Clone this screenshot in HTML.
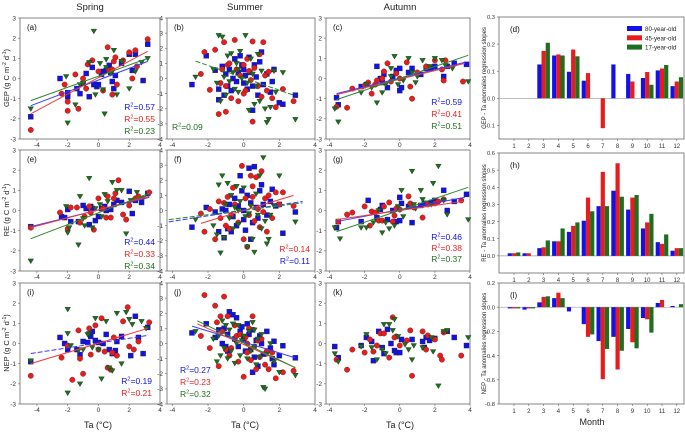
<!DOCTYPE html>
<html><head><meta charset="utf-8"><style>
html,body{margin:0;padding:0;background:#fff;}
svg{display:block;font-family:"Liberation Sans",Arial,sans-serif;}
</style></head><body>
<svg id="fig" width="685" height="432" viewBox="0 0 685 432" xmlns="http://www.w3.org/2000/svg"></svg>
<script>
// ---------- scatter data (x = Ta anomaly, y = flux anomaly), flat pairs ----------
const gepSpringBlue=[-4.4,-1.9,-2.5,0,-2,-0.7,-2,-0.9,-1.4,-0.5,-1.2,-0.75,-1,-0.25,-0.8,0.25,-0.6,-0.9,-0.4,0.55,-0.3,-0.3,-0.1,-0.4,0,-0.3,0.3,0.35,0.5,0.4,0.7,0.65,0.8,0.3,0.9,-0.15,1,-0.5,1.1,0.15,1.5,0.75,2,1.2,2.2,0.4,2.4,1.2,2.9,-0.1,3.2,1.7,0.2,0.2,-0.2,-0.3];
const gepSpringRed=[-4.4,-2.55,-2.4,-0.75,-2.2,-0.3,-2,-1.15,-2,-1.6,-1.5,0.2,-1.3,-1.5,-1,0,-0.8,-0.5,-0.7,0.7,-0.4,0.9,0,0.35,0.3,-0.6,0.6,1.55,0.7,0.4,0.9,0.45,1,0.85,1.1,1.05,1.2,-0.3,1.6,0.9,2,1.3,2.2,0,2.4,1.4,2.5,0.6,3.2,1.95,0.9,-0.8];
const gepSpringGreen=[-4.4,-1.5,-2.1,0.1,-2,-2.2,-1.5,-1.3,-1.2,-0.3,-1,-0.25,-0.6,0.8,-0.3,2.35,-0.2,-0.8,0.1,0.75,0.3,-0.55,0.4,-1.75,0.5,0.55,0.8,0.25,1.0,1.4,1.2,-0.8,1.5,0.85,2.0,-0.5,2.4,0.35,2.8,0.8,3.2,1.0,0.5,0.95];
const reSpringBlue=[-4.4,-0.8,-2.4,-0.3,-2.2,-0.35,-2,0.05,-1.8,-0.55,-1.3,-0.55,-1,0.25,-0.8,0.1,-0.6,-0.7,-0.5,0.2,-0.4,0.1,-0.2,-0.5,0,-0.3,0.2,0.1,0.4,0.2,0.5,0,0.8,0.05,1.0,0.3,1.2,0.5,1.5,0.4,2.0,0.95,2.2,-0.15,2.4,0.5,2.8,0.4,3.2,0.85];
const reSpringRed=[-4.4,-0.85,-2.5,-0.1,-2,-0.9,-1.8,0.15,-1.4,0.15,-1.2,-0.6,-0.9,-0.3,-0.6,0.2,-0.5,-0.1,-0.3,-0.95,0,0.6,0.3,0.1,0.5,-0.35,0.6,0.7,0.8,-0.35,1.0,0.6,1.3,1.5,1.6,-0.2,1.8,-0.45,2.0,0.25,2.4,0.6,2.6,0.7,3.3,0.9,1.1,0.85];
const reSpringGreen=[-4.4,-2.5,-2.1,0.2,-2,-1.1,-1.9,-0.85,-1.3,-1.7,-1.2,0.7,-0.9,-0.75,-0.6,1.6,-0.4,-0.85,-0.2,0.1,0.1,0.3,0.4,0.8,0.6,0.45,0.9,1.4,1.2,1.0,1.5,1.0,1.8,-1.15,2.1,0.5,2.5,0.9,2.9,0.6,0.2,-0.3,-1.0,-0.4];
const nepSpringBlue=[-4.4,-0.9,-2.5,0.3,-2.2,0,-2,-0.3,-1.4,-0.3,-1.2,-0.55,-1,0.1,-0.7,0.05,-0.5,0.35,-0.4,0.6,-0.2,0.15,0,0.05,0.3,0,0.5,0.45,0.7,-0.3,0.9,-0.5,1.1,-0.35,1.2,0.1,1.5,0.35,2.1,-0.6,2.4,1.35,2.6,0.3,2.9,-0.5,3.2,0.8];
const nepSpringRed=[-4.4,-1.6,-2.4,-0.7,-2,-0.1,-1.7,-1.8,-1.3,0.65,-1.2,-0.75,-1,-1.5,-0.6,0.75,-0.5,-0.55,-0.2,0.9,0,-0.3,0.2,1.25,0.4,-0.4,0.6,-1.2,0.8,-1.3,1.0,0.3,1.2,-0.6,1.6,1.1,1.9,1.8,2.0,-0.15,2.3,-0.3,2.6,0.1,3.3,1.05,0.9,-0.45];
const nepSpringGreen=[-4.4,-0.85,-2,1.7,-2,0.5,-2,-2.45,-1.8,-0.1,-1.3,-0.35,-1.2,-2.0,-1,-0.3,-0.6,0.5,-0.4,-0.2,-0.2,1.25,0,-0.3,0.2,-1.75,0.5,1.1,0.7,-1.2,0.9,-1.35,1.2,1.5,1.5,-1.0,1.8,1.55,2.0,1.2,2.2,0.95,2.8,1.1,3.1,0.75,-0.7,0.45];

const gepSummerBlue=[-2.9,-0.4,-2.1,1.5,-1.6,0.55,-1.4,-0.7,-1.2,0.8,-1.1,-1.1,-1,0.3,-0.9,-0.5,-0.8,0.6,-0.6,0.0,-0.5,1.3,-0.4,-0.2,-0.3,0.4,-0.2,1.5,-0.1,0.9,0,-0.3,0.1,0.2,0.2,-0.7,0.3,1.4,0.35,0.4,0.5,-0.5,0.6,0.9,0.7,0.1,0.8,-1.1,0.9,1.1,1.0,1.75,1.1,-0.4,1.3,0.3,1.5,-0.9,1.6,-0.2,1.7,0.6,2.0,-1.6,2.2,-1.7,2.9,-1.1,-1.4,-1.4,0.5,-2.1,-0.7,-0.8,0.0,0.6];
const gepSummerRed=[-2.4,0.3,-2.2,1.75,-1.9,-0.75,-1.6,1.9,-1.4,-2.35,-1.3,-0.3,-1.2,0.6,-1.1,2.4,-1,-0.5,-0.9,0.9,-0.8,1.0,-0.7,-1.3,-0.5,2.55,-0.4,0.6,-0.3,-1.5,-0.2,0.2,0,0.9,0.1,-0.8,0.2,1.3,0.3,0.5,0.4,-0.1,0.5,2.45,0.5,-2.85,0.6,0.7,0.8,-0.5,0.9,1.6,1.0,-1.2,1.1,2.4,1.2,0.2,1.3,-0.8,1.4,0.45,1.6,-1.3,1.8,-1.9,2.2,-0.7,2.8,-1.5,-1.0,-2.2,0.0,-1.0];
const gepSummerGreen=[-2.7,0.1,-1.7,0.6,-1.5,-0.3,-1.4,2.85,-1.3,-1.5,-1.2,2.75,-1.1,0.1,-1.0,-1.1,-0.9,1.5,-0.8,-0.2,-0.7,1.65,-0.6,0.4,-0.5,-0.7,-0.4,1.0,-0.3,-0.9,-0.2,1.8,-0.1,0.0,0.1,2.85,0.2,-0.3,0.3,-2.1,0.4,1.3,0.5,0.3,0.7,-0.5,0.8,1.6,0.9,-1.5,1.0,0.5,1.2,-2.0,1.3,-2.9,1.4,-2.7,1.5,-1.9,1.7,0.5,1.8,-0.9,2.2,0.4,2.9,-2.7,0.6,-1.7,-0.3,0.6];
const reSummerBlue=[-2.9,-1.1,-2.1,0.2,-1.6,-0.1,-1.4,-1.4,-1.2,0.1,-1.1,-1.8,-1,0,-0.9,-1.2,-0.8,0.4,-0.6,-0.4,-0.5,0.8,-0.4,-1.0,-0.3,0.3,-0.2,2.3,-0.1,1.3,0,0.0,0.1,-1.3,0.2,1.0,0.3,2.8,0.4,0.5,0.5,-0.8,0.6,2.9,0.7,0.2,0.8,-0.5,0.9,1.3,1.0,1.7,1.1,0.4,1.3,-0.3,1.5,0.6,1.6,1.4,1.8,0.3,2.0,0.4,2.2,-1.5,2.9,-0.1,-0.7,-1.4,0.4,-1.9,0.0,-0.6];
const reSummerRed=[-2.4,-0.2,-2.2,-1.4,-1.9,0.1,-1.6,-1.9,-1.4,0.6,-1.3,-0.5,-1.1,0.5,-1.0,-1.0,-0.9,0.9,-0.7,-0.3,-0.6,1.5,-0.5,0.4,-0.3,-0.8,-0.1,2.95,0,-1.9,0.1,0.8,0.3,-0.3,0.4,2.3,0.5,0.9,0.6,-0.7,0.7,2.2,0.8,0.1,0.9,-1.1,1.0,2.6,1.1,-0.1,1.2,0.8,1.3,-1.4,1.4,1.0,1.6,-0.5,1.8,1.2,2.0,0.4,2.2,1.2,2.8,0.3,-0.8,-1.2,0.2,-2.4,0.5,1.6];
const reSummerGreen=[-2.7,-0.6,-1.7,-1.0,-1.5,-1.6,-1.4,1.7,-1.3,-2.8,-1.2,2.3,-1.1,-1.8,-1.0,0.4,-0.9,1.8,-0.8,-0.5,-0.7,1.0,-0.6,-1.2,-0.5,0.2,-0.4,1.6,-0.3,-0.9,-0.2,0.6,0,1.5,0.2,-2.4,0.3,-0.2,0.4,0.3,0.5,-1.9,0.6,-2.75,0.7,1.1,0.8,-0.3,0.9,2.3,1.0,-1.2,1.1,3.5,1.2,-0.7,1.3,-2.2,1.4,-1.9,1.5,-0.3,1.7,0.3,2.0,2.3,2.9,-0.75,0.1,-0.4,-0.3,0.0];
const nepSummerBlue=[-2.9,0.7,-2.1,1.3,-1.6,0.4,-1.4,0.9,-1.2,0.0,-1.1,1.0,-1,-0.2,-0.9,0.6,-0.8,2.1,-0.6,1.9,-0.5,0.3,-0.4,1.7,-0.3,-0.2,-0.2,0.8,-0.1,1.1,0,0.3,0.1,-0.5,0.2,1.3,0.3,0.6,0.4,-0.4,0.5,0.9,0.6,-0.9,0.7,0.2,0.8,-1.5,0.9,0.5,1.0,0.0,1.1,-0.7,1.3,0.8,1.5,-0.3,1.6,-1.0,1.7,0.15,2.0,-0.8,2.2,-0.15,2.9,-0.95,-0.9,-0.5,0.5,-1.9,1.7,-1.4];
const nepSummerRed=[-2.4,0.5,-2.2,3.2,-1.9,-0.3,-1.6,2.5,-1.4,-1.5,-1.3,1.8,-1.2,0.8,-1.1,3.1,-1,-0.4,-0.9,1.8,-0.8,-0.8,-0.7,-0.3,-0.5,1.2,-0.4,0.5,-0.3,-1.2,-0.2,0.6,0,-2.2,0.1,0.4,0.2,-0.6,0.3,1.0,0.4,-1.1,0.5,1.8,0.6,-0.2,0.7,-1.7,0.8,0.2,0.9,-0.9,1.0,0.3,1.2,-1.4,1.3,-0.5,1.4,-1.7,1.6,-0.6,1.8,-2.3,2.2,-1.9,2.8,-1.8,-1.5,1.4,0.2,0.0];
const nepSummerGreen=[-2.7,0.8,-1.7,0.3,-1.5,-1.2,-1.4,0.5,-1.3,-0.8,-1.2,1.5,-1.1,-0.3,-1.0,1.2,-0.9,-1.0,-0.8,0.9,-0.7,-0.5,-0.6,1.3,-0.5,-1.3,-0.4,0.0,-0.3,1.2,-0.2,-0.8,0,0.5,0.2,-1.0,0.3,0.8,0.4,-0.5,0.5,1.4,0.6,-0.2,0.7,-1.4,0.8,0.3,0.9,-0.9,1.0,0.6,1.1,-2.9,1.2,-3.0,1.3,-0.7,1.5,0.0,1.7,-1.2,2.0,-1.9,2.9,-2.1,-0.1,0.2,0.6,0.9];

const gepAutumnBlue=[-3.6,-0.95,-3.5,-1.3,-2.2,-0.4,-1.9,-0.3,-1.3,0.6,-1.1,0.0,-1.0,-0.2,-0.9,0.2,-0.7,-0.45,-0.4,0.1,-0.2,0.4,0,0.5,0,-0.6,0.1,-0.45,0.5,0.3,0.7,0.5,1.2,0.2,1.5,0.5,1.8,0.5,2.0,0.6,2.5,0.1,2.7,0.6,3.1,0.75,3.8,0.7];
const gepAutumnRed=[-3.6,-1.4,-3.0,-1.45,-2.7,-0.5,-2.0,-0.35,-1.8,-0.2,-1.6,-0.75,-1.3,-0.1,-1.0,0.0,-0.7,0.75,-0.5,-0.15,-0.2,0.25,0,0.0,0.4,0.8,0.6,-0.4,0.7,-1.0,1.0,0.3,1.5,0.6,2.0,0.9,2.4,0.45,2.5,-0.1,2.6,0.9,3.6,-0.15,-0.9,0.35,-1.4,-0.3];
const gepAutumnGreen=[-3.7,-1.5,-3.5,-2.15,-2.2,-0.7,-1.9,-0.3,-1.6,-0.45,-1.3,-1.2,-1.0,-0.7,-0.8,-0.3,-0.5,0.1,-0.3,1.1,-0.1,-0.3,0.2,-0.1,0.5,1.0,0.7,0.3,0.9,-0.2,1.3,0.9,1.7,0.6,2.0,1.0,2.4,0.9,2.6,0.65,3.0,0.5,3.9,-0.15,1.0,0.1,-0.5,0.5];
const reAutumnBlue=[-3.6,-0.85,-3.5,-0.55,-2.2,-0.55,-1.8,0.5,-1.3,-0.35,-1.1,0.05,-1.0,0.25,-0.7,-0.45,-0.4,0.0,-0.2,-0.55,0,0.65,0.0,-0.5,0.1,0.35,0.5,0.2,0.7,-0.6,1.2,0.25,1.5,0.35,1.8,0.4,2.0,0.5,2.5,1.0,2.7,0.0,3.1,0.45,3.8,0.8,1.4,0.35];
const reAutumnRed=[-3.5,-0.55,-3.0,-0.2,-2.7,-0.1,-2.0,0.2,-1.7,-0.75,-1.6,-0.05,-1.4,-0.1,-1.2,-0.5,-1.0,-0.5,-0.6,0.4,-0.4,-0.55,-0.2,0.1,0,0.05,0.5,0.7,0.6,0.35,0.8,0.15,1.3,-0.35,1.6,0.3,2.0,0.35,2.2,0.45,2.5,0.55,3.5,0.5,-0.9,0.2,-0.3,-0.25];
const reAutumnGreen=[-3.7,-0.85,-3.4,-1.4,-2.2,-0.85,-1.9,-0.85,-1.5,-0.6,-1.0,-1.1,-0.8,-0.6,-0.6,-0.9,-0.3,-0.75,0.1,1.0,-0.1,0.2,0.2,-0.3,0.7,1.95,0.8,0.3,0.9,0.1,1.2,1.0,1.8,0.3,1.9,1.35,2.2,2.2,2.5,0.5,2.7,-0.2,3.9,-0.45,1.3,0.55,-1.2,0.0];
const nepAutumnBlue=[-3.7,-0.15,-3.5,-0.7,-2.2,-0.1,-1.9,0.3,-1.6,0.1,-1.5,-0.85,-1.2,0.6,-1.0,-0.2,-0.9,-0.5,-0.7,0.7,-0.3,-0.35,-0.2,-0.45,0,-0.45,0.1,0.2,0.7,0.2,1.4,-0.2,1.5,0.3,1.7,0.15,2.0,0.25,2.7,0.6,3.1,0.3,3.8,-0.1,-0.5,0.0,1.3,0.1];
const nepAutumnRed=[-3.6,-0.8,-3.0,-1.3,-2.7,-0.3,-2.0,-0.45,-1.7,0.2,-1.5,-0.4,-1.3,-0.1,-1.1,0.5,-0.9,0.5,-0.6,-0.7,-0.4,1.3,-0.2,0.35,0,-0.1,0.4,0.15,0.6,0.65,0.7,-1.6,1.3,0.6,1.5,-0.3,2.0,0.2,2.3,-0.6,2.4,-0.8,2.5,0.55,3.5,-0.6,-0.3,0.3,1.6,0.4];
const nepAutumnGreen=[-3.7,-0.5,-3.5,-0.9,-2.2,-0.15,-1.9,0.45,-1.6,-0.2,-1.3,-0.8,-1.0,-0.3,-0.9,0.95,-0.6,0.95,-0.4,0.65,-0.3,1.2,-0.1,0.35,0.3,-0.05,0.5,-0.3,0.7,-0.8,0.8,-0.1,1.3,-0.2,1.8,0.3,1.9,-0.4,2.2,-2.1,2.5,0.6,2.7,0.65,3.9,0.3,-0.8,-0.5];

// ---------- regression lines: [slope, intercept, xStart, xEnd] per series (null = none) ----------
const fitSlopes    ={a:[0.289,0.408,0.276], b:[null,null,-0.409], c:[0.212,0.212,0.293], e:[0.188,0.201,0.292], f:[0.18,0.356,0.147], g:[0.164,0.125,0.293], i:[0.118,0.230,null], j:[-0.362,-0.527,-0.564], k:[null,null,null]};
const fitIntercepts={a:[-0.076,0.045,0.116], b:[null,null,0.045], c:[0.014,-0.035,0.006], e:[0.029,0.036,-0.114], f:[0.006,0.004,0.016], g:[0.042,0,0.006], i:[0.021,0.013,null], j:[0.1,-0.071,0.035], k:[null,null,null]};
const fitXStart    ={a:[-4.4,-4.4,-4.4], b:[0,0,-2.7], c:[-3.6,-3.6,-3.6], e:[-4.4,-4.4,-4.4], f:[-4.2,-2.4,-4.2], g:[-3.6,-3.6,-3.6], i:[-4.4,-4.4,0], j:[-2.9,-2.6,-2.6], k:[0,0,0]};
const fitXEnd      ={a:[3.2,3.2,3.2], b:[0,0,2.8], c:[3.7,3.7,3.9], e:[3.3,3.3,3.3], f:[3.3,2.8,3.3], g:[3.7,3.6,3.9], i:[3.2,3.2,0], j:[2.9,2.9,2.9], k:[0,0,0]};
const fitDashed    ={a:[0,0,0], b:[0,0,1], c:[0,0,0], e:[0,0,0], f:[1,0,1], g:[0,0,0], i:[1,0,0], j:[0,0,0], k:[0,0,0]};
const r2Labels     ={a:["0.57","0.55","0.23"], b:[null,null,"0.09"], c:["0.59","0.41","0.51"], e:["0.44","0.33","0.34"], f:["0.11","0.14",null], g:["0.46","0.38","0.37"], i:["0.19","0.21",null], j:["0.27","0.23","0.32"], k:[null,null,null]};

// ---------- bar data: monthly regression slopes ----------
const months=[1,2,3,4,5,6,7,8,9,10,11,12];
const gepSlope80=[null,null,0.125,0.158,0.098,0.065,null,0.125,0.09,0.075,0.103,0.045];
const gepSlope45=[null,null,0.175,0.162,0.18,0.093,-0.11,null,0.062,0.097,0.11,0.062];
const gepSlope17=[null,null,0.205,0.158,0.155,null,null,null,null,0.05,0.123,0.078];
const reSlope80=[0.015,0.015,0.045,0.085,0.14,0.205,0.29,0.38,0.27,0.16,0.08,0.03];
const reSlope45=[0.015,0.015,0.05,0.085,0.175,0.34,0.49,0.54,0.34,0.195,0.07,0.045];
const reSlope17=[0.02,null,0.09,0.16,0.195,0.26,0.29,0.345,0.355,0.245,0.125,0.045];
const nepSlope80=[-0.01,-0.02,0.04,0.075,-0.035,-0.14,-0.28,-0.245,-0.18,-0.09,0.035,0.01];
const nepSlope45=[-0.01,-0.01,0.085,0.12,null,-0.245,-0.595,-0.515,-0.29,-0.1,0.06,null];
const nepSlope17=[-0.01,-0.01,0.09,0.075,null,-0.225,-0.345,-0.36,-0.34,-0.21,null,0.025];
const seriesNames=["80-year-old","45-year-old","17-year-old"];
const barTickD=[-0.1,0.0,0.1,0.2,0.3];
const barTickH=[0.0,0.1,0.2,0.3,0.4,0.5,0.6];
const barTickL=[-0.8,-0.6,-0.4,-0.2,0.0,0.2];

const NS="http://www.w3.org/2000/svg";
const svg=document.getElementById('fig');
const COL=["#1212e8","#e81c1c","#1e6e1e"];
const LINECOL=["#3a3aff","#f03a3a","#2a8a2a"];
function el(tag,attrs,parent,text){const e=document.createElementNS(NS,tag);for(const k in attrs)e.setAttribute(k,attrs[k]);if(text!=null)e.textContent=text;(parent||svg).appendChild(e);return e;}

const cols=[{x0:20,x1:160,dom:[-5.1,4]},{x0:167,x1:315,dom:[-4.3,4]},{x0:326,x1:470,dom:[-4.2,4]}];
const rows=[{y0:18,y1:139},{y0:150,y1:271},{y0:283,y1:404}];
const panels=[
 {id:'a',c:0,r:0,yd:[-3,3],data:[gepSpringBlue,gepSpringRed,gepSpringGreen],r2:{x:155,y:[110,122,134],anchor:'end'}},
 {id:'b',c:1,r:0,yd:[-4,4],data:[gepSummerBlue,gepSummerRed,gepSummerGreen],r2:{x:172,y:[0,0,130],anchor:'start'}},
 {id:'c',c:2,r:0,yd:[-3,3],data:[gepAutumnBlue,gepAutumnRed,gepAutumnGreen],r2:{x:462,y:[105,117,129],anchor:'end'}},
 {id:'e',c:0,r:1,yd:[-3,3],data:[reSpringBlue,reSpringRed,reSpringGreen],r2:{x:155,y:[245,257,269],anchor:'end'}},
 {id:'f',c:1,r:1,yd:[-4,4],data:[reSummerBlue,reSummerRed,reSummerGreen],r2:{x:310,y:[264,252,0],anchor:'end'}},
 {id:'g',c:2,r:1,yd:[-3,3],data:[reAutumnBlue,reAutumnRed,reAutumnGreen],r2:{x:462,y:[240,251,262],anchor:'end'}},
 {id:'i',c:0,r:2,yd:[-3,3],data:[nepSpringBlue,nepSpringRed,nepSpringGreen],r2:{x:152,y:[384,396,0],anchor:'end'}},
 {id:'j',c:1,r:2,yd:[-4,4],data:[nepSummerBlue,nepSummerRed,nepSummerGreen],r2:{x:180,y:[373,385,397],anchor:'start'}},
 {id:'k',c:2,r:2,yd:[-3,3],data:[nepAutumnBlue,nepAutumnRed,nepAutumnGreen],r2:null}
];

function marker(g,s,px,py){
  let m;
  if(s===0){m=el('rect',{x:px-2.5,y:py-2.5,width:5,height:5,fill:COL[0],stroke:'#223',"stroke-width":0.4},g);}
  else if(s===1){m=el('circle',{cx:px,cy:py,r:2.7,fill:COL[1],stroke:'#5a2020',"stroke-width":0.4},g);}
  else {m=el('polygon',{points:`${px-2.8},${py-2} ${px+2.8},${py-2} ${px},${py+2.8}`,fill:COL[2],stroke:'#1a301a',"stroke-width":0.4},g);}
  
  
}

panels.forEach(p=>{
  const C=cols[p.c],R=rows[p.r];
  const sx=v=>C.x0+(v-C.dom[0])/(C.dom[1]-C.dom[0])*(C.x1-C.x0);
  const sy=v=>R.y1-(v-p.yd[0])/(p.yd[1]-p.yd[0])*(R.y1-R.y0);
  const g=el('g',{},svg);
  
  
  el('rect',{x:C.x0,y:R.y0,width:C.x1-C.x0,height:R.y1-R.y0,fill:'none',stroke:'#666',"stroke-width":0.8},g);
  // x ticks
  [-4,-2,0,2,4].forEach(t=>{const x=sx(t);if(x<C.x0-1||x>C.x1+1)return;
    el('line',{x1:x,x2:x,y1:R.y1,y2:R.y1+2,stroke:'#666',"stroke-width":0.6},g);
    const lb=el('text',{x:x,y:R.y1+8,"font-size":6.5,"text-anchor":"middle",fill:'#333'},g,String(t));
    });
  for(let t=p.yd[0];t<=p.yd[1];t++){const y=sy(t);
    el('line',{x1:C.x0-2,x2:C.x0,y1:y,y2:y,stroke:'#666',"stroke-width":0.6},g);
    const lb=el('text',{x:C.x0-4,y:y+2.3,"font-size":6.5,"text-anchor":"end",fill:'#333'},g,String(t));
    }
  const pl=el('text',{x:C.x0+7,y:R.y0+12,"font-size":8,fill:'#111'},g,'('+p.id+')');
  
  p.data.forEach((arr,s)=>{for(let k=0;k<arr.length;k+=2)marker(g,s,sx(arr[k]),sy(arr[k+1]));});
  for(let s=0;s<3;s++){const m=fitSlopes[p.id][s];if(m==null)continue;
    const b=fitIntercepts[p.id][s],xa=fitXStart[p.id][s],xb=fitXEnd[p.id][s];
    const ln=el('line',{x1:sx(xa),y1:sy(m*xa+b),x2:sx(xb),y2:sy(m*xb+b),stroke:LINECOL[s],"stroke-width":1},g);
    if(fitDashed[p.id][s])ln.setAttribute('stroke-dasharray','5,2');
    }
  if(p.r2){for(let s=0;s<3;s++){const v=r2Labels[p.id][s];if(v==null)continue;
    const t=el('text',{x:p.r2.x,y:p.r2.y[s],"font-size":8.5,"text-anchor":p.r2.anchor,fill:COL[s]},g);
    
    el('tspan',{},t,'R');el('tspan',{"font-size":5.5,dy:-3.5},t,'2');el('tspan',{dy:3.5},t,'='+v);}}
});

// titles
[['Spring',90],['Summer',245],['Autumn',400]].forEach(([t,x])=>{const e=el('text',{x:x,y:10,"font-size":9.5,"text-anchor":"middle",fill:'#222'},svg,t);});
[98,245,400].forEach(x=>{const e=el('text',{x:x,y:428,"font-size":9,"text-anchor":"middle",fill:'#222'},svg,'Ta (°C)');});
[['GEP',78],['RE',210],['NEP',343]].forEach(([v,yc])=>{const t=el('text',{x:0,y:0,"font-size":7.5,"text-anchor":"middle",fill:'#222',transform:`translate(9,${yc}) rotate(-90)`},svg);
  
  el('tspan',{},t,v+' (g C m');el('tspan',{"font-size":5,dy:-3},t,'-2');el('tspan',{dy:3},t,' d');el('tspan',{"font-size":5,dy:-3},t,'-1');el('tspan',{dy:3},t,')');});

// bar panels
const bx0=499,bx1=684;
const mx=m=>514+(m-1)*14.8;
const barPanels=[
 {id:'d',y0:17,y1:139,dom:[-0.15,0.3],ticks:barTickD,data:[gepSlope80,gepSlope45,gepSlope17],lab:'GEP - Ta anomalies regression slopes'},
 {id:'h',y0:153,y1:273,dom:[-0.1,0.6],ticks:barTickH,data:[reSlope80,reSlope45,reSlope17],lab:'RE - Ta anomalies regression slopes'},
 {id:'l',y0:283,y1:404,dom:[-0.8,0.2],ticks:barTickL,data:[nepSlope80,nepSlope45,nepSlope17],lab:'NEP - Ta anomalies regression slopes'}
];
barPanels.forEach(p=>{
  const sy=v=>p.y1-(v-p.dom[0])/(p.dom[1]-p.dom[0])*(p.y1-p.y0);
  const g=el('g',{},svg);
  
  
  el('rect',{x:bx0,y:p.y0,width:bx1-bx0,height:p.y1-p.y0,fill:'none',stroke:'#666',"stroke-width":0.8},g);
  el('line',{x1:bx0,x2:bx1,y1:sy(0),y2:sy(0),stroke:'#999',"stroke-width":0.7},g);
  p.ticks.forEach(t=>{const y=sy(t);el('line',{x1:bx0-2,x2:bx0,y1:y,y2:y,stroke:'#666',"stroke-width":0.6},g);
    const lb=el('text',{x:bx0-4,y:y+2.2,"font-size":5.8,"text-anchor":"end",fill:'#333'},g,t.toFixed(1));
    });
  months.forEach(m=>{const x=mx(m);el('line',{x1:x,x2:x,y1:p.y1,y2:p.y1+2,stroke:'#666',"stroke-width":0.6},g);
    const lb=el('text',{x:x,y:p.y1+9,"font-size":6,"text-anchor":"middle",fill:'#333'},g,String(m));
    });
  p.data.forEach((arr,s)=>arr.forEach((v,i)=>{if(v==null)return;const xc=mx(months[i])+(s-1)*4.2;
    const y=Math.min(sy(v),sy(0)),h=Math.abs(sy(v)-sy(0));
    const r=el('rect',{x:xc-2.1,y:y,width:4.2,height:h,fill:COL[s]},g);
    }));
  const pl=el('text',{x:bx0+11,y:p.y0+15,"font-size":8,fill:'#111'},g,'('+p.id+')');
  
  const yl=el('text',{x:0,y:0,"font-size":6,"text-anchor":"middle",fill:'#222',transform:`translate(${486},${(p.y0+p.y1)/2}) rotate(-90)`},svg,p.lab);
  
});
const mt=el('text',{x:592,y:425,"font-size":9,"text-anchor":"middle",fill:'#222'},svg,'Month');


// legend in (d)
const lg=el('g',{},svg);


seriesNames.forEach((n,s)=>{const y=29+s*9.3;
  const sw=el('rect',{x:627,y:y-3,width:15,height:5,fill:COL[s]},lg);
  
  const t=el('text',{x:645,y:y+2,"font-size":6.2,fill:'#222'},lg,n);
  });
</script>
</body></html>
